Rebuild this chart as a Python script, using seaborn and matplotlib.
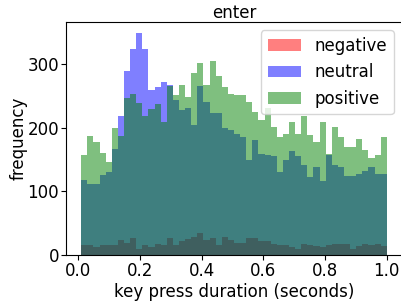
import numpy as np
import pandas as pd
import matplotlib
matplotlib.use('Agg')
import matplotlib.pyplot as plt
import seaborn as sns

# histogram counts per bin (50 bins between the min and max key press duration)
bin_lo = 0.01
bin_hi = 1.0
n_bins = 50

negative = [15, 15, 12, 15, 16, 16, 24, 19, 26, 10,
            15, 12, 18, 15, 26, 15, 22, 25, 28, 35,
            24, 27, 15, 29, 24, 19, 19, 27, 27, 22,
            22, 17, 16, 15, 13, 9, 18, 15, 14, 12,
            15, 17, 17, 17, 10, 14, 18, 15, 17, 14]

neutral = [118, 111, 111, 126, 130, 166, 218, 289, 324, 349,
           324, 260, 265, 272, 268, 244, 228, 232, 204, 266,
           240, 224, 224, 199, 196, 191, 185, 150, 181, 159,
           158, 156, 131, 149, 163, 156, 141, 123, 138, 117,
           157, 141, 139, 125, 125, 127, 132, 138, 128, 128]

positive = [158, 187, 177, 161, 147, 200, 187, 247, 253, 239,
            218, 229, 237, 209, 266, 252, 268, 248, 287, 302,
            268, 305, 281, 264, 253, 252, 252, 241, 225, 212,
            232, 201, 186, 191, 209, 191, 218, 188, 178, 209,
            159, 202, 185, 170, 170, 183, 165, 152, 157, 185]

series = {'negative': negative, 'neutral': neutral, 'positive': positive}
colors = {'negative': 'red', 'neutral': 'blue', 'positive': 'green'}

edges = np.linspace(bin_lo, bin_hi, n_bins + 1)
centers = (edges[:-1] + edges[1:]) / 2

plt.rcParams['font.size'] = 12
fig = plt.figure(figsize=(4.01, 3.02), dpi=100)
ax = fig.add_axes([0.1646, 0.1556, 0.838, 0.7715])

for name, counts in series.items():
    df = pd.DataFrame({'duration': centers, 'count': counts})
    sns.histplot(data=df, x='duration', weights='count',
                 bins=n_bins, binrange=(bin_lo, bin_hi),
                 color=colors[name], alpha=0.5, linewidth=0,
                 label=name, ax=ax)

ax.set_title('enter', fontsize=12, pad=3)
ax.set_xlabel('key press duration (seconds)', fontsize=12, labelpad=2)
ax.set_ylabel('frequency', fontsize=12, labelpad=0)
ax.set_xticks([0.0, 0.2, 0.4, 0.6, 0.8, 1.0])
ax.set_yticks([0, 100, 200, 300])
ax.tick_params(labelsize=12, pad=1.5)
ax.legend(loc='upper right', fontsize=12)

fig.savefig('out.png', dpi=100)
